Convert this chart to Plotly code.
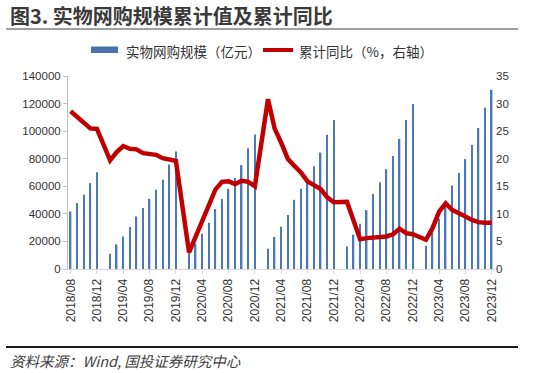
import plotly.graph_objects as go

months = [
    "2018/08", "2018/09", "2018/10", "2018/11", "2018/12",
    "2019/01", "2019/02", "2019/03", "2019/04", "2019/05", "2019/06",
    "2019/07", "2019/08", "2019/09", "2019/10", "2019/11", "2019/12",
    "2020/01", "2020/02", "2020/03", "2020/04", "2020/05", "2020/06",
    "2020/07", "2020/08", "2020/09", "2020/10", "2020/11", "2020/12",
    "2021/01", "2021/02", "2021/03", "2021/04", "2021/05", "2021/06",
    "2021/07", "2021/08", "2021/09", "2021/10", "2021/11", "2021/12",
    "2022/01", "2022/02", "2022/03", "2022/04", "2022/05", "2022/06",
    "2022/07", "2022/08", "2022/09", "2022/10", "2022/11", "2022/12",
    "2023/01", "2023/02", "2023/03", "2023/04", "2023/05", "2023/06",
    "2023/07", "2023/08", "2023/09", "2023/10", "2023/11", "2023/12",
]

# 实物网购规模（亿元），累计值；1月无数据
online_sales = [
    41700, 47800, 53800, 62300, 70200,
    None, 11100, 17800, 23600, 30400, 38100,
    44200, 50900, 57400, 64700, 75800, 85200,
    None, 12000, 18300, 25600, 33500, 43500,
    50700, 58200, 66000, 75300, 87600, 97600,
    None, 14700, 23200, 30600, 39100, 50200,
    58200, 64000, 74600, 84500, 97300, 108000,
    None, 16400, 24800, 32800, 42700, 54500,
    63000, 72400, 82000, 94400, 108100, 119700,
    None, 16900, 27500, 36400, 47500, 60500,
    69700, 79700, 90000, 102300, 117000, 130000,
]

# 累计同比（%，右轴）
yoy_pct = [
    28.6, 27.6, 26.7, 25.5, 25.4,
    None, 19.7, 21.2, 22.3, 21.8, 21.7,
    21.0, 20.9, 20.7, 20.1, 19.8, 19.6,
    None, 3.0, 5.9, 8.6, 11.5, 14.4,
    15.8, 15.9, 15.4, 16.0, 15.8, 15.0,
    None, 30.8, 25.5, 22.9, 20.0, 18.7,
    17.5, 15.9, 15.3, 14.5, 13.0, 12.1,
    None, 12.2, 8.6, 5.4, 5.6, 5.7,
    5.7, 5.9, 6.3, 7.3, 6.5, 6.3,
    None, 5.3, 7.4, 10.4, 11.9, 10.7,
    10.0, 9.5, 8.9, 8.5, 8.4, 8.4,
]

tick_months = months[::4]
left_ticks = [0, 20000, 40000, 60000, 80000, 100000, 120000, 140000]
right_ticks = [0, 5, 10, 15, 20, 25, 30, 35]

W, H = 534, 373
L, R, T, B = 68, 39, 76, 104
PW, PH = W - L - R, H - T - B


def px(x):
    return (x - L) / PW


def py(y):
    return (H - B - y) / PH


CJK = "Noto Sans CJK SC"
NUM = "Liberation Sans"

fig = go.Figure()
fig.add_trace(go.Bar(
    x=months, y=online_sales, name="实物网购规模（亿元）",
    width=0.22, marker=dict(color="#4a78b8", line=dict(width=0)),
))
fig.add_trace(go.Scatter(
    x=months, y=yoy_pct, name="累计同比（%，右轴）", yaxis="y2",
    mode="lines", connectgaps=True,
    line=dict(color="#c00000", width=4.5, shape="linear"),
))

fig.update_layout(
    width=W, height=H,
    margin=dict(l=L, r=R, t=T, b=B, pad=0),
    paper_bgcolor="white", plot_bgcolor="white",
    showlegend=False,
    xaxis=dict(
        type="category", range=[-0.4, 64.5],
        tickmode="array", tickvals=tick_months, ticktext=tick_months,
        tickangle=-90, ticks="outside", ticklen=4, tickcolor="#d9d9d9",
        showline=True, linecolor="#d9d9d9", linewidth=1,
        showgrid=False, zeroline=False,
        tickfont=dict(family=NUM, size=12, color="#333333"),
    ),
    yaxis=dict(
        range=[0, 140000], tickmode="array", tickvals=left_ticks,
        tickformat="d",
        ticks="outside", ticklen=4, tickcolor="#bfbfbf",
        showline=True, linecolor="#bfbfbf", linewidth=1,
        showgrid=False, zeroline=False,
        tickfont=dict(family=NUM, size=11.5, color="#333333"),
    ),
    yaxis2=dict(
        range=[0, 35], tickmode="array", tickvals=right_ticks,
        overlaying="y", side="right",
        ticks="", showline=False, showgrid=False, zeroline=False,
        tickfont=dict(family=NUM, size=11.5, color="#333333"),
    ),
)

shapes = [
    # line under title
    dict(type="line", xref="paper", yref="paper",
         x0=px(6), x1=px(518), y0=py(29), y1=py(29),
         line=dict(color="#404040", width=1.2)),
    # line above source
    dict(type="line", xref="paper", yref="paper",
         x0=px(6), x1=px(518), y0=py(347), y1=py(347),
         line=dict(color="#1a1a1a", width=2)),
    # legend swatches
    dict(type="rect", xref="paper", yref="paper",
         x0=px(91), x1=px(118), y0=py(46.5), y1=py(53),
         fillcolor="#4a72aa", line=dict(width=0)),
    dict(type="line", xref="paper", yref="paper",
         x0=px(263), x1=px(293), y0=py(50), y1=py(50),
         line=dict(color="#c00000", width=4)),
]

annotations = [
    dict(text="<b>图3. 实物网购规模累计值及累计同比</b>", xref="paper", yref="paper",
         x=px(8), y=py(15), xanchor="left", yanchor="middle", showarrow=False,
         font=dict(family=CJK, size=20, color="#3a3a3a")),
    dict(text="实物网购规模（亿元）", xref="paper", yref="paper",
         x=px(124), y=py(50.5), xanchor="left", yanchor="middle", showarrow=False,
         font=dict(family=CJK, size=13.5, color="#333333")),
    dict(text="累计同比（%，右轴）", xref="paper", yref="paper",
         x=px(297), y=py(50.5), xanchor="left", yanchor="middle", showarrow=False,
         font=dict(family=CJK, size=13.5, color="#333333")),
    dict(text="资料来源：Wind, 国投证券研究中心", xref="paper", yref="paper",
         x=px(8), y=py(360), xanchor="left", yanchor="middle", showarrow=False,
         font=dict(family=CJK, size=14.5, color="#404040", style="italic")),
]

fig.update_layout(shapes=shapes, annotations=annotations)

fig.write_html("out.html", config={"displayModeBar": False},
               post_script="document.body.style.margin='0';")
